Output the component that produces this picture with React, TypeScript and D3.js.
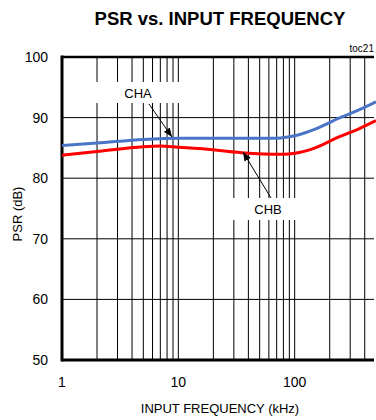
import React from "react";
import * as d3 from "d3";

const freqA = [1, 2, 5, 10, 20, 70, 100, 150, 240, 360, 500];
const psrA = [85.4, 85.8, 86.4, 86.6, 86.6, 86.6, 87.0, 88.1, 89.9, 91.3, 92.6];
const freqB = [1, 2, 5, 7, 10, 15, 35, 80, 100, 150, 240, 360, 500];
const psrB = [83.8, 84.4, 85.2, 85.3, 85.1, 84.9, 84.2, 83.95, 84.1, 85.0, 86.8, 88.2, 89.5];
const yTicks = [50, 60, 70, 80, 90, 100];
const xTickLabels = [1, 10, 100];
const xGrid = [2, 3, 4, 5, 6, 7, 8, 9, 10, 20, 30, 40, 50, 60, 70, 80, 90, 100, 200, 300, 400];

export default function App() {
  const W = 376, H = 420;
  const left = 62, right = 376, top = 57, bottom = 360;
  const x = d3.scaleLog().domain([1, 500]).range([left, right]);
  const y = d3.scaleLinear().domain([50, 100]).range([bottom, top]);
  const line = d3.line<number>().curve(d3.curveMonotoneX);
  const pathA = line(freqA.map((f, i) => [x(f), y(psrA[i])]) as any);
  const pathB = line(freqB.map((f, i) => [x(f), y(psrB[i])]) as any);
  const font = "'Liberation Sans', Arial, sans-serif";
  return (
    <svg width={W} height={H} style={{ position: "absolute", left: 0, top: 0, background: "#fff" }} fontFamily={font}>
      <defs>
        <marker id="ah" viewBox="0 0 10 10" refX="10" refY="5" markerWidth="9" markerHeight="9" orient="auto" markerUnits="userSpaceOnUse">
          <path d="M0,1 L10,5 L0,9 z" fill="#000" />
        </marker>
      </defs>
      <rect x={0} y={0} width={W} height={H} fill="#fff" />
      <text x={220} y={25} textAnchor="middle" fontWeight="bold" fontSize={18.5}>PSR vs. INPUT FREQUENCY</text>
      <text x={374} y={52} textAnchor="end" fontSize={10}>toc21</text>
      {xGrid.map((f) => (
        <line key={"g" + f} x1={x(f)} x2={x(f)} y1={top} y2={bottom} stroke="#000" strokeWidth={1} />
      ))}
      {yTicks.map((v) => (
        <line key={"h" + v} x1={left} x2={374} y1={y(v)} y2={y(v)} stroke="#000" strokeWidth={1} />
      ))}
      <rect x={94} y={82} width={89} height={21} fill="#fff" />
      <rect x={226} y={198} width={76} height={22} fill="#fff" />
      <line x1={left} x2={left} y1={top - 1.5} y2={bottom + 1.5} stroke="#000" strokeWidth={3} />
      <line x1={left} x2={374} y1={bottom} y2={bottom} stroke="#000" strokeWidth={3} />
      <line x1={left} x2={374} y1={top} y2={top} stroke="#000" strokeWidth={2.5} />
      <path d={pathA || ""} fill="none" stroke="#4a74c6" strokeWidth={3} />
      <path d={pathB || ""} fill="none" stroke="#ff0000" strokeWidth={3} />
      <text x={138} y={98} textAnchor="middle" fontSize={13}>CHA</text>
      <line x1={149} y1={104} x2={172} y2={137} stroke="#000" strokeWidth={1} markerEnd="url(#ah)" />
      <text x={268} y={214} textAnchor="middle" fontSize={13}>CHB</text>
      <line x1={271} y1={198} x2={243} y2={152} stroke="#000" strokeWidth={1} markerEnd="url(#ah)" />
      {yTicks.map((v) => (
        <text key={"yl" + v} x={48} y={y(v) + 5} textAnchor="end" fontSize={14}>{v}</text>
      ))}
      {xTickLabels.map((v) => (
        <text key={"xl" + v} x={x(v)} y={387} textAnchor="middle" fontSize={14}>{v}</text>
      ))}
      <text x={220} y={413} textAnchor="middle" fontSize={13}>INPUT FREQUENCY (kHz)</text>
      <text transform="translate(22,214) rotate(-90)" textAnchor="middle" fontSize={13}>PSR (dB)</text>
    </svg>
  );
}
